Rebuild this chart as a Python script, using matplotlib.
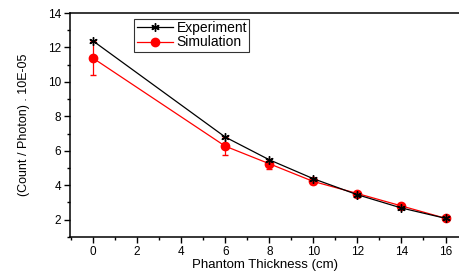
import numpy as np
import matplotlib.pyplot as plt
from matplotlib.ticker import MultipleLocator

plt.rcParams['font.family'] = ['Liberation Sans', 'DejaVu Sans']

thickness = [0, 6, 8, 10, 12, 14, 16]
experiment = [12.38, 6.8, 5.48, 4.38, 3.45, 2.68, 2.08]
simulation = [11.38, 6.27, 5.25, 4.22, 3.52, 2.8, 2.08]
sim_err = [1.0, 0.52, 0.3, 0.12, 0.1, 0.1, 0.08]

fig = plt.figure(figsize=(4.6, 2.72), dpi=100)
ax = fig.add_axes([0.152, 0.129, 0.85, 0.823])

ax.plot(thickness, experiment, color='black', lw=0.9, marker=(6, 2, 0),
        ms=6, mew=1.0, label='Experiment', zorder=3)
ax.errorbar(thickness, simulation, yerr=sim_err, fmt='none', ecolor='red',
            capsize=2.5, elinewidth=0.9, zorder=2)
ax.plot(thickness, simulation, color='red', lw=0.9, marker='o', ms=6,
        mfc='red', mec='red', label='Simulation', zorder=2)

ax.set_xlim(-1.05, 16.7)
ax.set_ylim(1, 14)
ax.xaxis.set_major_locator(MultipleLocator(2))
ax.xaxis.set_minor_locator(MultipleLocator(1))
ax.yaxis.set_major_locator(MultipleLocator(2))
ax.yaxis.set_minor_locator(MultipleLocator(1))
ax.tick_params(which='major', direction='out', length=4, width=1, labelsize=8.5, pad=2.5)
ax.tick_params(which='minor', direction='out', length=2.5, width=1)
ax.spines['right'].set_visible(False)
for s in ['left', 'bottom', 'top']:
    ax.spines[s].set_linewidth(1.1)

ax.set_xlabel('Phantom Thickness (cm)', fontsize=9.5, labelpad=1)
ax.set_ylabel('(Count / Photon) . 10E-05', fontsize=9, labelpad=13)

leg = ax.legend(loc='upper left', bbox_to_anchor=(0.165, 0.975), fontsize=10,
                frameon=True, fancybox=False, edgecolor='black',
                borderpad=0.15, handlelength=2.6, labelspacing=0.05,
                handletextpad=0.3, borderaxespad=0)
leg.get_frame().set_linewidth(0.8)

fig.savefig('out.png', dpi=100)
